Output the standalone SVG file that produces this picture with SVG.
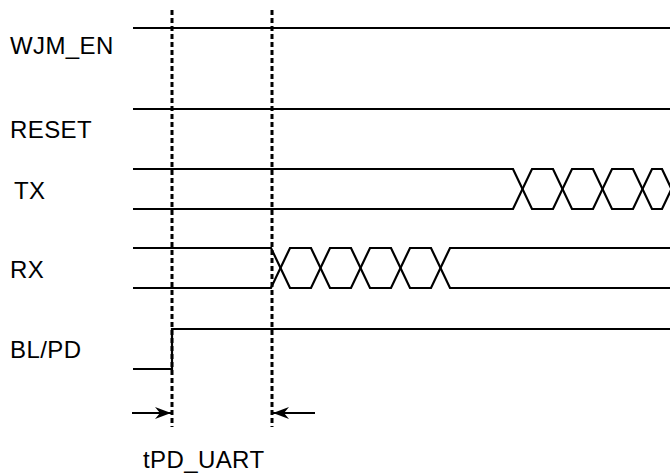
<svg xmlns="http://www.w3.org/2000/svg" width="670" height="473" viewBox="0 0 670 473">
<style>
.sig{fill:none;stroke:#000;stroke-width:2.2;stroke-linejoin:miter}
.dash{fill:none;stroke:#000;stroke-width:3;stroke-dasharray:5 3}
.lbl{font-family:"Liberation Sans",Arial,sans-serif;font-size:24px;letter-spacing:0.4px;fill:#000}
.arr{fill:none;stroke:#000;stroke-width:2.2}
</style>
<defs>
<marker id="ah" markerWidth="16" markerHeight="12" refX="16" refY="6" orient="auto" markerUnits="userSpaceOnUse">
<path d="M0,0 L16,6 L0,12 L5,6 Z" fill="#000"/>
</marker>
</defs>
<rect width="670" height="473" fill="#fff"/>
<g id="labels">
<text class="lbl" x="10" y="54">WJM_EN</text>
<text class="lbl" x="10" y="138">RESET</text>
<text class="lbl" x="14" y="199">TX</text>
<text class="lbl" x="10" y="278">RX</text>
<text class="lbl" x="10" y="358">BL/PD</text>
<text class="lbl" x="143" y="468">tPD_UART</text>
</g>
<g id="signals">
<g id="wjm_en"><path class="sig" d="M133,28 H670"/></g>
<g id="reset"><path class="sig" d="M133,109 H670"/></g>
<g id="tx">
<path class="sig" d="M133,169 H513 L532,209 H553 L572,169 H593 L612,209 H633 L652,169 H662 L681,209"/>
<path class="sig" d="M133,209 H513 L532,169 H553 L572,209 H593 L612,169 H633 L652,209 H662 L681,169"/>
</g>
<g id="rx">
<path class="sig" d="M133,248 H271 L290,288 H311 L330,248 H351 L370,288 H391 L410,248 H431 L450,288 H670"/>
<path class="sig" d="M133,288 H271 L290,248 H311 L330,288 H351 L370,248 H391 L410,288 H431 L450,248 H670"/>
</g>
<g id="blpd"><path class="sig" d="M133,369 H172 V329 H670"/></g>
</g>
<g id="connectors">
<path class="dash" d="M172,10 V427"/>
<path class="dash" d="M272,10 V427"/>
<path class="arr" d="M132,413 H171" marker-end="url(#ah)"/>
<path class="arr" d="M315,413 H273" marker-end="url(#ah)"/>
</g>
</svg>
